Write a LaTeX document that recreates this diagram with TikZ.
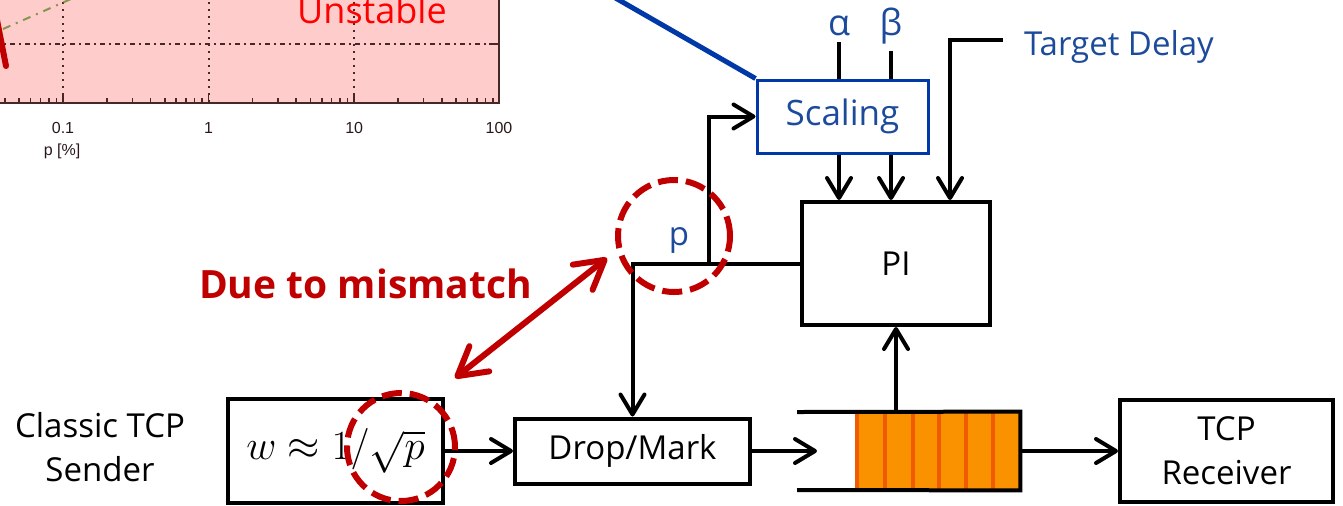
\documentclass[tikz,border=0pt]{standalone}
\usepackage{fontspec}
\setmainfont{Open Sans}
\newfontfamily\plotfont{Liberation Sans}
\usetikzlibrary{arrows.meta}

\definecolor{boxblue}{RGB}{0,56,168}
\definecolor{textblue}{RGB}{28,75,155}
\definecolor{mismatch}{RGB}{192,0,0}
\definecolor{plotpink}{RGB}{255,204,204}
\definecolor{plotaxis}{RGB}{70,40,40}
\definecolor{curvegreen}{RGB}{130,150,80}
\definecolor{qorange}{RGB}{250,146,0}
\definecolor{qslot}{RGB}{240,90,0}

\begin{document}
\begin{tikzpicture}[x=0.5pt, y=-0.5pt,
		every node/.style={font=\fontsize{16.5}{22}\selectfont},
		block/.style={draw, line width=2pt, align=center},
		flow/.style={line width=2pt, -{Straight Barb[length=10pt,width=12pt,round]}},
		wire/.style={line width=2pt},
		bluetext/.style={text=textblue},
		gridv/.style={plotaxis, line width=0.9pt, dash pattern=on 1pt off 2.5pt},
		gridh/.style={plotaxis, line width=0.9pt, dash pattern=on 2.5pt off 2pt on 1pt off 2pt},
		plotlabel/.style={font=\plotfont\fontsize{8}{9}\selectfont, text=plotaxis!60!black},
		mmcircle/.style={circle, draw=mismatch, line width=3pt, dash pattern=on 10pt off 4pt, inner sep=0pt},
		mmarrow/.style={mismatch, line width=3pt, line cap=round,
			{Straight Barb[length=14pt,width=16pt,round]}-{Straight Barb[length=14pt,width=16pt,round]}}]
		\useasboundingbox (0,0) rectangle (1343,505);

		% Cut-off stability plot
		\fill[plotpink] (-5,-5) rectangle (499,103);
		\foreach \gx in {63,208.6,354.2}
			\draw[gridv] (\gx,-5) -- (\gx,103);
		\draw[gridh] (-5,44) -- (499,44);
		\draw[plotaxis, line width=0.8pt] (499,-5) -- (499,103) -- (-5,103);
		\draw[plotaxis, line width=0.8pt] (499,44) -- (489,44);
		\foreach \gx in {63,208.6,354.2}
			\draw[plotaxis, line width=0.8pt] (\gx,103) -- (\gx,94);
		\foreach \dx in {-82.6,63,208.6,354.2}
			\foreach \k in {2,...,9}
				\draw[plotaxis, line width=0.8pt] ({\dx+145.6*log10(\k)},103) -- ({\dx+145.6*log10(\k)},98);
		\draw[curvegreen, line width=1pt, dash pattern=on 4pt off 3pt on 1pt off 3pt] (3,29) -- (80,-5);
		\draw[mismatch, line width=3pt, line cap=round] (-3,20) -- (6,66);

		\node[plotlabel] (t01) at (63,128) {0.1};
		\node[plotlabel] (t1) at (208.6,128) {1};
		\node[plotlabel] (t10) at (354.2,128) {10};
		\node[plotlabel] (t100) at (499,128) {100};
		\node[plotlabel] (paxis) at (62,151) {p [\%]};
		\node[font=\fontsize{18}{18}\selectfont, text=red, anchor=base] (unstable) at (372,23) {Unstable};

		% Blocks
		\node (sendername) at (100,447) [align=center] {Classic TCP\\Sender};
		\node[block, minimum width=107.5pt, minimum height=52pt, font=\fontsize{22}{22}\selectfont] (sender) at (335.5,451) {$w \approx 1/\sqrt{p}$};
		\node[block, minimum width=117.5pt, minimum height=32.5pt] (drop) at (632.5,451) {Drop/Mark};
		\node[block, minimum width=106.5pt, minimum height=51pt] (receiver) at (1226.5,451) {TCP\\Receiver};
		\node[block, minimum width=94pt, minimum height=61.5pt] (pi) at (896,263.5) {PI};
		\node[block, draw=boxblue, line width=1.5pt, bluetext, minimum width=85.5pt, minimum height=36.5pt, font=\fontsize{17.5}{20}\selectfont] (scaling) at (842.5,116.5) {Scaling};

		% Queue
		\node[fill=qorange, inner sep=0pt, minimum width=81.5pt, minimum height=39pt] (queue) at (938.5,451) {};
		\foreach \sx in {857,885,913,939,966,993}
			\draw[qslot, line width=2.2pt] (\sx,412) -- (\sx,490);
		\coordinate (qtop) at (797,412);
		\coordinate (qbot) at (797,490);
		\draw[wire] (qtop) -- (queue.north east) -- (queue.south east) -- (qbot);

		% Inputs
		\node[bluetext, font=\fontsize{18}{18}\selectfont, anchor=base] (alpha) at (839,35) {α};
		\node[bluetext, font=\fontsize{18}{18}\selectfont, anchor=base] (beta) at (891,35) {β};
		\node[bluetext, anchor=base west] (target) at (1017,55) {Target Delay};
		\node[bluetext, anchor=base] (plabel) at (679,245) {p};
		\coordinate (tdin) at (1003,40);
		\coordinate (pbranch) at (709,263.5);
		\coordinate (qin) at (817,451);
		\coordinate (plotlink) at (612,-4);

		% Connectors
		\draw[flow] (sender.east) -- (drop.west);
		\draw[flow] (drop.east) -- (qin);
		\draw[flow] (queue.east) -- (receiver.west);
		\draw[flow] (pi.south |- queue.north) -- (pi.south);
		\draw[flow] (pi.west) -| (drop.north);
		\draw[flow] (pbranch) |- (scaling.west);
		\draw[wire] (alpha.south) -- (alpha.south |- scaling.north);
		\draw[wire] (beta.south) -- (beta.south |- scaling.north);
		\draw[flow] (alpha.south |- scaling.south) -- (alpha.south |- pi.north);
		\draw[flow] (beta.south |- scaling.south) -- (beta.south |- pi.north);
		\draw[flow, line join=miter] (tdin) -| ([xshift=27pt]pi.north);
		\draw[boxblue, line width=2.5pt] (plotlink) -- (scaling.north west);

		% Mismatch
		\node[mmcircle, minimum size=56pt] (pcirc) at (674,236) {};
		\node[mmcircle, minimum size=54pt] (sqcirc) at (401,447) {};
		\coordinate (mmlo) at (455,378);
		\coordinate (mmhi) at (607,258);
		\draw[mmarrow] (mmlo) -- (mmhi);
		\node[font=\bfseries\fontsize{19.5}{20}\selectfont, text=mismatch, anchor=base west] (mmtext) at (192,298) {Due to mismatch};
	\end{tikzpicture}
\end{document}
